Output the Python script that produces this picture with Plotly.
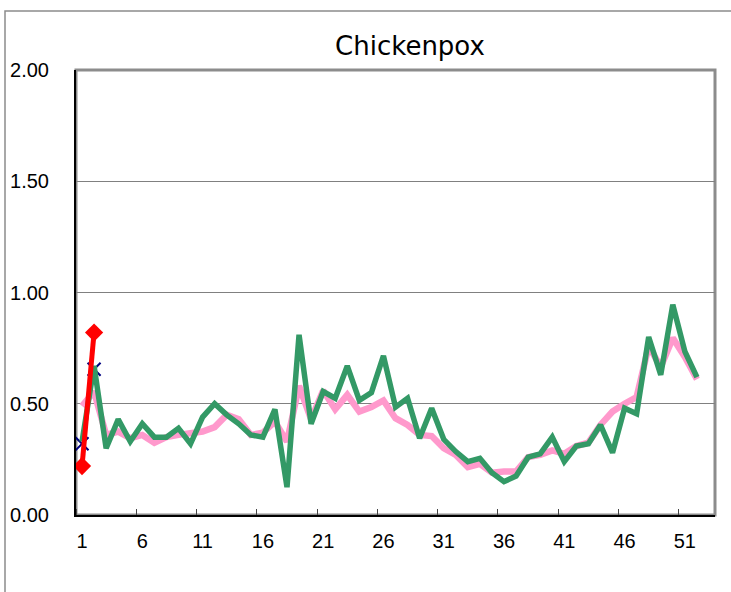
import plotly.graph_objects as go

weeks = list(range(1, 53))
pink_values = [0.49, 0.555, 0.36, 0.375, 0.345, 0.36, 0.325, 0.35, 0.36, 0.37,
               0.375, 0.395, 0.45, 0.43, 0.36, 0.37, 0.42, 0.33, 0.58, 0.43,
               0.56, 0.475, 0.54, 0.465, 0.485, 0.515, 0.435, 0.405, 0.36, 0.355,
               0.30, 0.27, 0.215, 0.23, 0.19, 0.195, 0.195, 0.26, 0.27, 0.29,
               0.275, 0.31, 0.325, 0.405, 0.465, 0.50, 0.53, 0.76, 0.665, 0.795,
               0.71, 0.61]
green_values = [0.33, 0.67, 0.30, 0.43, 0.33, 0.41, 0.35, 0.35, 0.39, 0.32,
                0.44, 0.50, 0.45, 0.41, 0.36, 0.35, 0.475, 0.125, 0.81, 0.41,
                0.555, 0.525, 0.67, 0.515, 0.55, 0.715, 0.485, 0.525, 0.345, 0.48,
                0.34, 0.285, 0.24, 0.255, 0.19, 0.15, 0.175, 0.26, 0.275, 0.35,
                0.24, 0.31, 0.32, 0.405, 0.28, 0.48, 0.455, 0.80, 0.63, 0.945,
                0.735, 0.62]
current_weeks = [1, 2]
red_values = [0.22, 0.82]
blue_values = [0.32, 0.655]

x_tickvals = list(range(1, 53, 5))
y_tickvals = [0, 0.5, 1.0, 1.5, 2.0]
y_ticktext = ["0.00", "0.50", "1.00", "1.50", "2.00"]

FONT = "Liberation Sans, Arial, sans-serif"

fig = go.Figure()
fig.add_trace(go.Scatter(x=weeks, y=pink_values, mode="lines",
                         line=dict(color="#FF99CC", width=6.5), hoverinfo="skip"))
fig.add_trace(go.Scatter(x=current_weeks, y=blue_values, mode="markers",
                         marker=dict(symbol="x-thin", size=13,
                                     line=dict(width=2, color="#000080"))))
fig.add_trace(go.Scatter(x=weeks, y=green_values, mode="lines",
                         line=dict(color="#339966", width=5.5)))
fig.add_trace(go.Scatter(x=current_weeks, y=red_values, mode="lines+markers",
                         line=dict(color="#FF0000", width=5),
                         marker=dict(symbol="diamond", size=14, color="#FF0000")))

L, R, T, B = 76, 715, 70, 515
W, H = 731, 592
pw, ph = R - L, B - T

def px(xp):
    return (xp - L) / pw

def py(yp):
    return (B - yp) / ph

shapes = [
    # plot area border (gray top/right)
    dict(type="rect", xref="paper", yref="paper", x0=0, x1=1, y0=0, y1=1,
         line=dict(color="#8C8C8C", width=3), layer="below"),
    # outer chart-area border (left and top visible)
    dict(type="path", xref="paper", yref="paper",
         path=f"M {px(5)},{py(600)} L {px(5)},{py(11)} L {px(740)},{py(11)}",
         line=dict(color="#8C8C8C", width=1.5)),
]

fig.update_layout(
    width=W, height=H,
    margin=dict(l=L, r=W - R, t=T, b=H - B, autoexpand=False),
    paper_bgcolor="white", plot_bgcolor="white",
    showlegend=False,
    title=dict(text="Chickenpox", x=(410 / W), xanchor="center",
               y=1 - 46 / H, yanchor="middle", automargin=False,
               font=dict(family="DejaVu Sans, sans-serif", size=26, color="black")),
    shapes=shapes,
    font=dict(family=FONT, color="black"),
)

fig.update_xaxes(range=[0.5, 53.5], tickvals=x_tickvals, ticks="",
                 showline=True, linecolor="black", linewidth=2,
                 showgrid=False, zeroline=False, automargin=False,
                 tickfont=dict(size=20, family=FONT), ticklabelstandoff=7,
                 minor=dict(tick0=0.5, dtick=5, ticks="inside", ticklen=6,
                            tickcolor="#444444", tickwidth=1, showgrid=False))
fig.update_yaxes(range=[0, 2], tickvals=y_tickvals, ticktext=y_ticktext, ticks="",
                 showline=True, linecolor="black", linewidth=2, automargin=False,
                 showgrid=True, gridcolor="#808080", gridwidth=1, zeroline=False,
                 tickfont=dict(size=20, family=FONT), ticklabelstandoff=21)

fig.write_html("out.html", config={"displayModeBar": False},
               post_script="document.body.style.margin='0px';document.body.style.overflow='hidden';")
